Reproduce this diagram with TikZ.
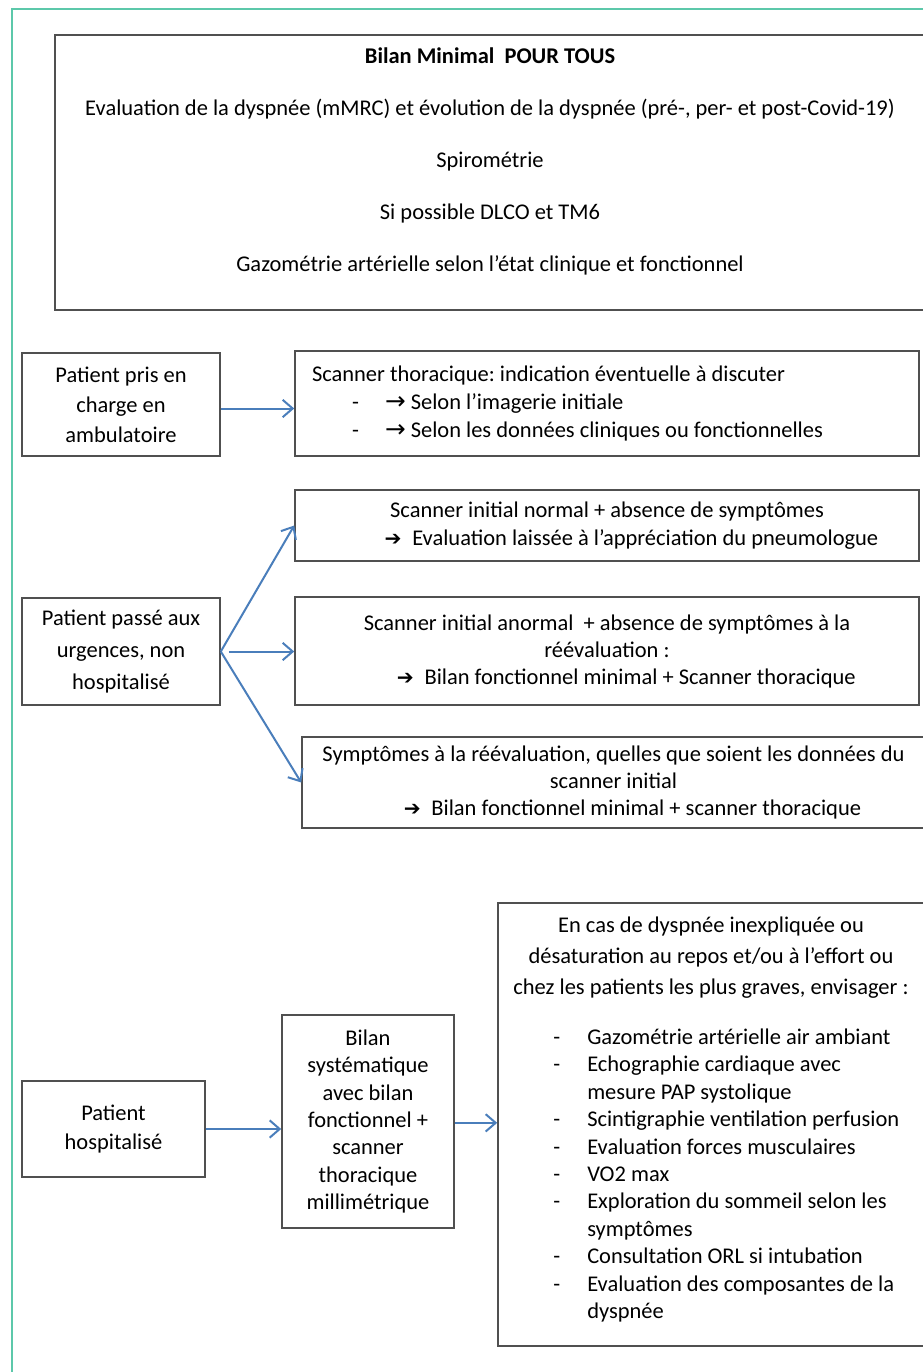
\documentclass[tikz,border=0pt]{standalone}
\usepackage{fontspec}
\setmainfont{Carlito}
\newfontfamily\symb[Scale=1.1]{DejaVu Sans}
\newfontfamily\symbh[Scale=0.9]{DejaVu Sans}
\usetikzlibrary{arrows.meta}
\definecolor{framegreen}{RGB}{92,200,170}
\definecolor{boxgray}{RGB}{80,80,80}
\definecolor{arrowblue}{RGB}{74,126,187}
\newcommand\listdash{\makebox[25.5pt][l]{-}}
\newcommand\listcont{\hspace*{25.5pt}}
\frenchspacing
\begin{document}
\begin{tikzpicture}[x=0.75pt,y=-0.75pt,
    box/.style={draw=boxgray,line width=1.2pt,inner sep=0pt,align=center,font=\fontsize{16.85}{#1}\selectfont},
    box/.default=20.6,
    txt/.style={inner sep=0pt,font=\fontsize{16.85}{#1}\selectfont},
    link/.style={draw=arrowblue,line width=1.5pt,-{Straight Barb[length=7.5pt,width=13pt]}}]
  \clip (0,0) rectangle (923,1372);
  \fill[white] (0,0) rectangle (923,1372);
  \draw[framegreen,line width=2.2pt] (12,1380) -- (12,9) -- (930,9);

  \node[box,minimum width=653.25pt,minimum height=206.25pt] (top) at (490.5,172.5) {};
  \node[txt=20.6,align=center] (toptext) at (490,161) {{\bfseries Bilan Minimal\ \ POUR TOUS}\\[18.4pt]
    Evaluation de la dyspnée (mMRC) et évolution de la dyspnée (pré-, per- et post-Covid-19)\\[18.4pt]
    Spirométrie\\[18.4pt]
    Si possible DLCO et TM6\\[18.4pt]
    Gazométrie artérielle selon l’état clinique et fonctionnel};

  \node[box=22.5,minimum width=148.5pt,minimum height=77.25pt] (a1) at (121,404.5) {Patient pris en\\charge en\\ambulatoire};
  \node[box=21,minimum width=468pt,minimum height=78.75pt,text width=442.5pt,inner xsep=12.75pt,align=flush left] (b1) at (607,403.5) {Scanner thoracique: indication éventuelle à discuter\\
    \hspace*{30pt}\makebox[24.75pt][l]{-}{\symb →} Selon l’imagerie initiale\\
    \hspace*{30pt}\makebox[24.75pt][l]{-}{\symb →} Selon les données cliniques ou fonctionnelles};

  \node[box=21,minimum width=468pt,minimum height=53.25pt] (b2) at (607,525.5) {Scanner initial normal + absence de symptômes\\
    \hspace*{36.75pt}{\symbh ➔}\hspace{8pt}Evaluation laissée à l’appréciation du pneumologue};
  \node[box=24,minimum width=148.5pt,minimum height=80.25pt] (a2) at (121,651.5) {Patient passé aux\\urgences, non\\hospitalisé};
  \node[box=20.25,minimum width=468pt,minimum height=81pt] (b3) at (607,651) {Scanner initial anormal\ \ + absence de symptômes à la\\
    réévaluation :\\
    \hspace*{29pt}{\symbh ➔}\hspace{8pt}Bilan fonctionnel minimal + Scanner thoracique};
  \node[box=20.25,minimum width=467.25pt,minimum height=68.25pt] (b4) at (613.5,782.5) {Symptômes à la réévaluation, quelles que soient les données du\\
    scanner initial\\
    \hspace*{28.5pt}{\symbh ➔}\hspace{8pt}Bilan fonctionnel minimal + scanner thoracique};

  \node[box=21.75,minimum width=137.25pt,minimum height=72pt] (c1) at (113.5,1129) {Patient\\hospitalisé};
  \node[box=20.6,minimum width=129pt,minimum height=159.75pt] (c2) at (368,1121.5) {Bilan\\systématique\\avec bilan\\fonctionnel +\\scanner\\thoracique\\millimétrique};
  \node[box,minimum width=320.25pt,minimum height=332.25pt] (c3) at (711.5,1124.5) {};
  \node[txt=23.25,align=center] (c3head) at (711,957.5) {En cas de dyspnée inexpliquée ou\\
    désaturation au repos et/ou à l’effort ou\\
    chez les patients les plus graves, envisager :};
  \node[txt=20.6,align=left,anchor=west] (c3list) at (553,1175.5) {\listdash Gazométrie artérielle air ambiant\\
    \listdash Echographie cardiaque avec\\
    \listcont mesure PAP systolique\\
    \listdash Scintigraphie ventilation perfusion\\
    \listdash Evaluation forces musculaires\\
    \listdash VO2 max\\
    \listdash Exploration du sommeil selon les\\
    \listcont symptômes\\
    \listdash Consultation ORL si intubation\\
    \listdash Evaluation des composantes de la\\
    \listcont dyspnée};

  \draw[link] ([yshift=-3pt]a1.east) -- ([yshift=-3pt]a1.east -| b1.west);
  \draw[link] (a2.east) -- (b2.west);
  \draw[link] ([xshift=6pt]a2.east) -- (a2.east -| b3.west);
  \draw[link] (a2.east) -- (b4.west);
  \draw[link] (c1.east) -- (c1.east -| c2.west);
  \draw[link] ([yshift=-1pt]c2.east) -- ([yshift=-1pt]c2.east -| c3.west);
\end{tikzpicture}
\end{document}
